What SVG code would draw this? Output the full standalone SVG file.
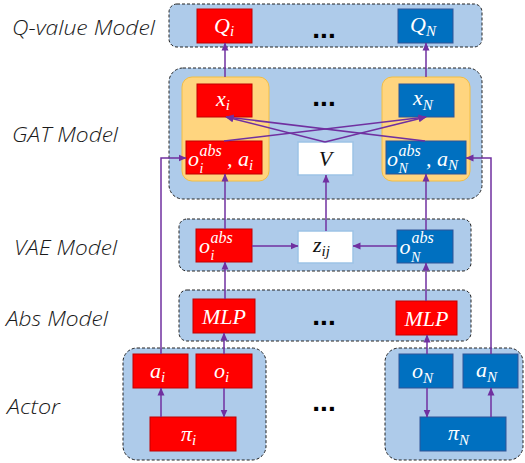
<svg xmlns="http://www.w3.org/2000/svg" width="525" height="463" viewBox="0 0 525 463">
  <defs>
    <marker id="arr" viewBox="0 0 8 8" refX="7.5" refY="4" markerWidth="8" markerHeight="8" markerUnits="userSpaceOnUse" orient="auto">
      <path d="M0,0.5 L8,4 L0,7.5 z" fill="#7030A0"/>
    </marker>
    <style>
      .panel { fill: #AECBEA; stroke: #222; stroke-width: 1; stroke-dasharray: 3 2; }
      .grp { fill: #FFD57F; stroke: #F2BE45; stroke-width: 1; }
      .red { fill: #FF0000; stroke: #C00000; stroke-width: 1; }
      .blue { fill: #0070C0; stroke: #2F5597; stroke-width: 1; }
      .white { fill: #FFFFFF; stroke: #9DC3E6; stroke-width: 1.5; }
      .lbl { font-family: "Open Sans", "Liberation Sans", sans-serif; font-style: italic; font-weight: 300; font-size: 20px; fill: #1a1a1a; }
      .m { font-family: "Liberation Serif", "DejaVu Serif", serif; font-style: italic; font-size: 22px; fill: #fff; }
      .mk { fill: #111; }
      .s { font-size: 15px; }
      .sub { font-size: 14px; }
      .sup { font-size: 16px; }
      .dots { font-family: "Liberation Sans", sans-serif; font-weight: bold; font-size: 28px; fill: #000; }
      .cn { stroke: #7030A0; stroke-width: 1.5; fill: none; marker-end: url(#arr); }
    </style>
  </defs>

  <!-- row labels -->
  <g id="labels">
    <text class="lbl" x="12" y="35" textLength="143" lengthAdjust="spacingAndGlyphs">Q-value Model</text>
    <text class="lbl" x="12" y="142" textLength="106" lengthAdjust="spacingAndGlyphs">GAT Model</text>
    <text class="lbl" x="14" y="255" textLength="103" lengthAdjust="spacingAndGlyphs">VAE Model</text>
    <text class="lbl" x="6" y="326" textLength="102" lengthAdjust="spacingAndGlyphs">Abs Model</text>
    <text class="lbl" x="7" y="414" textLength="53" lengthAdjust="spacingAndGlyphs">Actor</text>
  </g>

  <!-- layer panels -->
  <g id="panels">
    <rect class="panel" x="169" y="4" width="313" height="43" rx="8"/>
    <rect class="panel" x="169" y="68" width="313" height="131" rx="14"/>
    <rect class="panel" x="179" y="219" width="292" height="52" rx="8"/>
    <rect class="panel" x="179" y="290" width="292" height="51" rx="8"/>
    <rect class="panel" x="123" y="348" width="143" height="112" rx="14"/>
    <rect class="panel" x="385" y="348" width="138" height="112" rx="14"/>
    <rect class="grp" x="182" y="77" width="87" height="104" rx="10"/>
    <rect class="grp" x="382" y="77" width="88" height="104" rx="10"/>
  </g>

  <!-- ellipses -->
  <g id="ellipses">
    <text class="dots" x="324" y="38" text-anchor="middle">...</text>
    <text class="dots" x="324" y="106" text-anchor="middle">...</text>
    <text class="dots" x="324" y="325" text-anchor="middle">...</text>
    <text class="dots" x="324" y="411" text-anchor="middle">...</text>
  </g>

  <!-- Q-value model -->
  <g id="q-i">
    <rect class="red" x="197" y="9" width="55" height="34"/>
    <text class="m" x="214" y="33">Q<tspan class="s" dy="3">i</tspan></text>
  </g>
  <g id="q-n">
    <rect class="blue" x="398" y="9" width="55" height="34"/>
    <text class="m" x="410" y="32">Q<tspan class="s" dy="4">N</tspan></text>
  </g>

  <!-- GAT model -->
  <g id="x-i">
    <rect class="red" x="197" y="84" width="55" height="33"/>
    <text class="m" x="216" y="106">x<tspan class="s" dy="4">i</tspan></text>
  </g>
  <g id="x-n">
    <rect class="blue" x="399" y="84" width="55" height="33"/>
    <text class="m" x="413" y="105">x<tspan class="s" dy="5">N</tspan></text>
  </g>
  <g id="oa-i">
    <rect class="red" x="186" y="141" width="76" height="33"/>
    <text class="m" x="188" y="166">o<tspan class="sup" x="199.5" y="156">abs</tspan><tspan class="sub" x="199.5" y="173">i</tspan><tspan x="227" y="166">, a</tspan><tspan class="s" dy="4">i</tspan></text>
  </g>
  <g id="v">
    <rect class="white" x="298" y="142" width="55" height="33"/>
    <text class="m mk" x="325.5" y="166" text-anchor="middle">V</text>
  </g>
  <g id="oa-n">
    <rect class="blue" x="386" y="141" width="80" height="33"/>
    <text class="m" x="387" y="166">o<tspan class="sup" x="398.5" y="156">abs</tspan><tspan class="sub" x="398.5" y="173">N</tspan><tspan x="426" y="166">, a</tspan><tspan class="s" dy="4">N</tspan></text>
  </g>

  <!-- VAE model -->
  <g id="oabs-i">
    <rect class="red" x="196" y="229" width="56" height="33"/>
    <text class="m" x="199" y="253">o<tspan class="sup" x="210.5" y="243">abs</tspan><tspan class="sub" x="210.5" y="260">i</tspan></text>
  </g>
  <g id="z-ij">
    <rect class="white" x="298" y="231" width="55" height="32"/>
    <text class="m mk" x="313" y="252">z<tspan class="s" dy="4">ij</tspan></text>
  </g>
  <g id="oabs-n">
    <rect class="blue" x="397" y="230" width="56" height="33"/>
    <text class="m" x="399.5" y="254">o<tspan class="sup" x="411.5" y="243">abs</tspan><tspan class="sub" x="411" y="262">N</tspan></text>
  </g>

  <!-- Abs model -->
  <g id="mlp-i">
    <rect class="red" x="193" y="299" width="62" height="34"/>
    <text class="m" x="224" y="324" text-anchor="middle">MLP</text>
  </g>
  <g id="mlp-n">
    <rect class="red" x="396" y="301" width="61" height="34"/>
    <text class="m" x="426.5" y="326" text-anchor="middle">MLP</text>
  </g>

  <!-- Actors -->
  <g id="a-i">
    <rect class="red" x="133" y="354" width="55" height="34"/>
    <text class="m" x="150" y="378">a<tspan class="s" dy="4">i</tspan></text>
  </g>
  <g id="o-i">
    <rect class="red" x="196" y="354" width="56" height="34"/>
    <text class="m" x="214" y="378">o<tspan class="s" dy="4">i</tspan></text>
  </g>
  <g id="pi-i">
    <rect class="red" x="150" y="417" width="86" height="34"/>
    <text class="m" x="181" y="441">π<tspan class="s" dy="4">i</tspan></text>
  </g>
  <g id="o-n">
    <rect class="blue" x="399" y="354" width="54" height="34"/>
    <text class="m" x="412" y="378">o<tspan class="s" dy="5">N</tspan></text>
  </g>
  <g id="a-n">
    <rect class="blue" x="463" y="354" width="55" height="34"/>
    <text class="m" x="476" y="377">a<tspan class="s" dy="5">N</tspan></text>
  </g>
  <g id="pi-n">
    <rect class="blue" x="420" y="417" width="86" height="34"/>
    <text class="m" x="448" y="440">π<tspan class="s" dy="5">N</tspan></text>
  </g>

  <!-- connectors -->
  <g id="connectors">
    <path class="cn" d="M225,77 V43"/>
    <path class="cn" d="M426,77 V43"/>
    <path class="cn" d="M325,142 L226,117"/>
    <path class="cn" d="M325,142 L426,117"/>
    <path class="cn" d="M224,141 L426,117"/>
    <path class="cn" d="M425,141 L226,117"/>
    <path class="cn" d="M161,354 V158 H186"/>
    <path class="cn" d="M491,354 V158 H466"/>
    <path class="cn" d="M225,229 V174"/>
    <path class="cn" d="M326,231 V175"/>
    <path class="cn" d="M426,230 V174"/>
    <path class="cn" d="M252,246 H298"/>
    <path class="cn" d="M397,246 H353"/>
    <path class="cn" d="M225,299 V262"/>
    <path class="cn" d="M426,301 V263"/>
    <path class="cn" d="M224,354 V333"/>
    <path class="cn" d="M427,354 V335"/>
    <path class="cn" d="M161,417 V388"/>
    <path class="cn" d="M224,388 V417"/>
    <path class="cn" d="M427,388 V417"/>
    <path class="cn" d="M491,417 V388"/>
  </g>
</svg>
